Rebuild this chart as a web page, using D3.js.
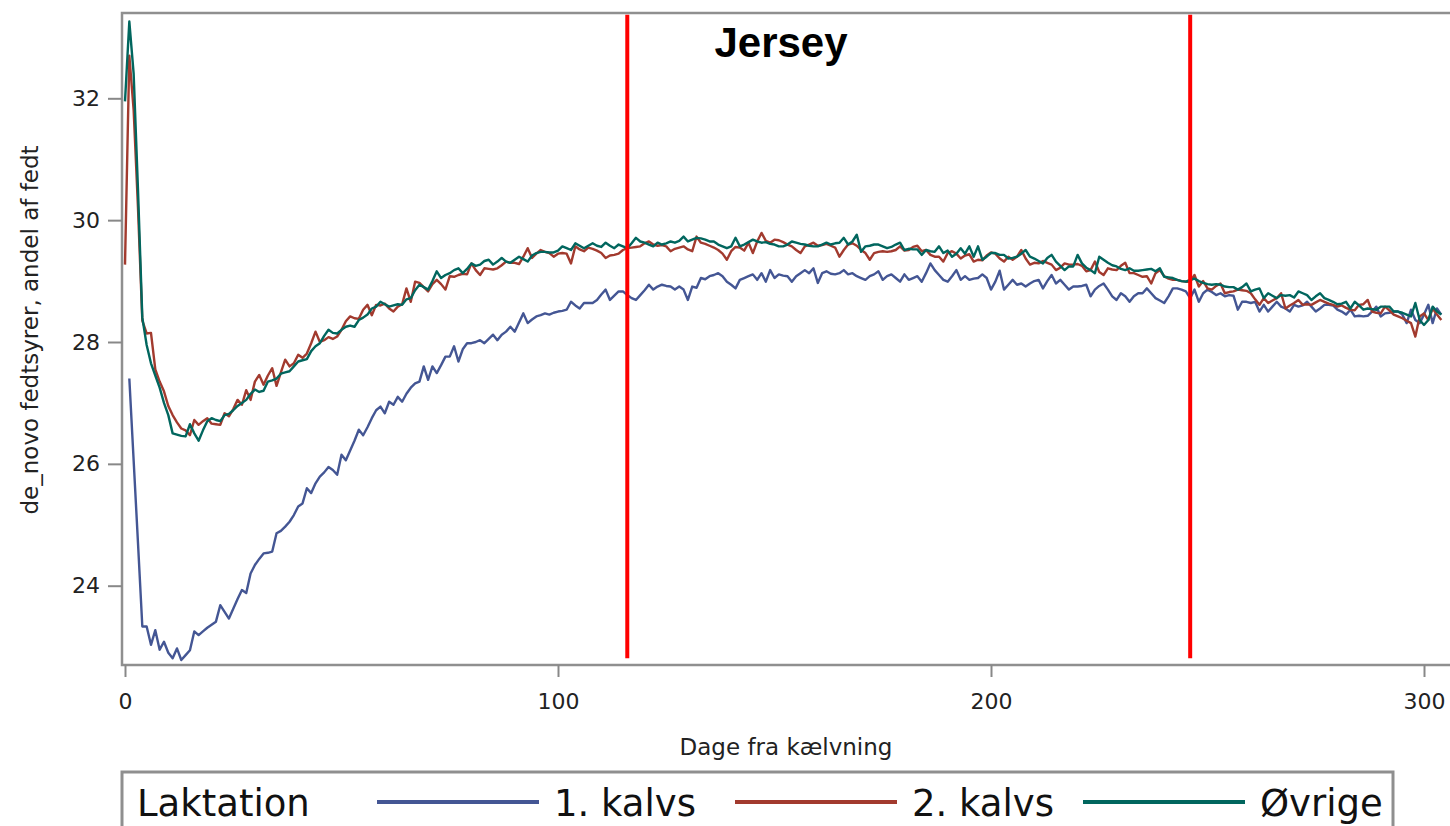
<!DOCTYPE html>
<html lang="en">
    <head>
        <meta charset="utf-8">
        <title>Jersey de_novo</title>
        <style type="text/css">
            body { margin: 0; background: white; }
            .tick text { font-family: "DejaVu Sans"; font-size: 22px; fill: #222; }
            .tick line { stroke: #888; stroke-width: 2; }
            .axis_label { font-family: "DejaVu Sans"; font-size: 23px; fill: #222; }
            .legend_text { font-family: "DejaVu Sans"; font-size: 37px; fill: #111; }
        </style>
        <script type="text/javascript" src="https://cdn.jsdelivr.net/npm/d3@7"></script>
    </head>
    <body>
        <script type="text/javascript">

var w = 1450;
var h = 826;

// series names + colours (SAS default palette)
var seriesNames = ['1. kalvs', '2. kalvs', 'Øvrige'];
var seriesColors = ['#445694', '#A23A2E', '#01665E'];
var seriesStart = [1, 0, 0];   // first day of each series

var xTicks = [0, 100, 200, 300];
var yTicks = [24, 26, 28, 30, 32];
var refDays = [116, 246];      // red marker lines
var refRange = [22.81, 33.37];

// 1. kalvs, day 1..304
var kalvs1 = [
  27.4, 26.05, 24.7, 23.33, 23.33, 23.03, 23.27, 22.95, 23.08, 22.9,
  22.81, 22.97, 22.78, 22.86, 22.94, 23.25, 23.19, 23.25, 23.31, 23.36,
  23.41, 23.68, 23.57, 23.46, 23.62, 23.78, 23.93, 23.88, 24.2, 24.34,
  24.44, 24.53, 24.54, 24.56, 24.86, 24.9, 24.97, 25.05, 25.16, 25.3,
  25.35, 25.6, 25.52, 25.68, 25.79, 25.86, 25.95, 25.9, 25.82, 26.15,
  26.06, 26.22, 26.38, 26.56, 26.47, 26.6, 26.75, 26.88, 26.94, 26.83,
  27.02, 26.97, 27.1, 27.02, 27.15, 27.25, 27.32, 27.35, 27.6, 27.38,
  27.6, 27.49, 27.62, 27.76, 27.76, 27.93, 27.68, 27.88, 27.98, 27.98,
  28.0, 28.03, 27.98, 28.05, 28.12, 28.03, 28.12, 28.17, 28.25, 28.17,
  28.32, 28.47, 28.31, 28.37, 28.42, 28.44, 28.47, 28.45, 28.48, 28.5,
  28.51, 28.53, 28.66, 28.6, 28.55, 28.64, 28.64, 28.64, 28.69, 28.78,
  28.86, 28.69, 28.76, 28.83, 28.83, 28.77, 28.72, 28.69, 28.77, 28.85,
  28.94, 28.86, 28.91, 28.94, 28.92, 28.91, 28.86, 28.91, 28.86, 28.69,
  28.91, 28.89, 29.05, 29.03, 29.08, 29.1, 29.13, 29.08, 28.99, 28.94,
  28.88, 29.02, 29.05, 29.08, 29.11, 29.02, 29.13, 28.99, 29.18, 29.05,
  29.11, 29.09, 29.08, 28.99, 29.08, 29.13, 29.18, 29.13, 29.21, 28.97,
  29.13, 29.16, 29.12, 29.11, 29.13, 29.18, 29.11, 29.13, 29.08, 29.05,
  29.02, 29.08, 29.11, 29.16, 29.02, 29.08, 29.11, 29.05, 28.99, 29.11,
  29.02, 29.05, 29.08, 28.99, 29.13, 29.29, 29.18, 29.1, 29.02, 28.99,
  29.08, 29.18, 29.02, 29.08, 29.02, 29.04, 29.05, 29.11, 29.05, 28.86,
  28.99, 29.17, 28.86, 28.94, 29.02, 28.94, 28.96, 28.91, 28.96, 29.0,
  29.02, 28.88, 29.0, 29.1, 28.96, 29.02, 28.94, 28.86, 28.91, 28.91,
  28.92, 28.94, 28.75, 28.86, 28.92, 28.96, 28.86, 28.75, 28.69, 28.8,
  28.75, 28.66, 28.75, 28.8, 28.8, 28.88, 28.8, 28.72, 28.68, 28.64,
  28.75, 28.88, 28.88, 28.86, 28.83, 28.72, 28.86, 28.66, 28.8, 28.86,
  28.82, 28.77, 28.8, 28.75, 28.77, 28.76, 28.53, 28.66, 28.66, 28.64,
  28.66, 28.5, 28.61, 28.5, 28.58, 28.66, 28.58, 28.55, 28.5, 28.61,
  28.58, 28.6, 28.66, 28.58, 28.5, 28.55, 28.61, 28.61, 28.6, 28.53,
  28.5, 28.45, 28.53, 28.42, 28.43, 28.42, 28.43, 28.5, 28.58, 28.42,
  28.47, 28.48, 28.5, 28.5, 28.45, 28.31, 28.53, 28.36, 28.31, 28.45,
  28.61, 28.31, 28.55, 28.45
];

// 2. kalvs, day 0..304
var kalvs2 = [
  29.27, 32.7, 31.8, 30.2, 28.35, 28.14, 28.15, 27.55, 27.35, 27.19,
  26.95, 26.8, 26.68, 26.58, 26.55, 26.47, 26.72, 26.64, 26.7, 26.75,
  26.66, 26.65, 26.64, 26.83, 26.78, 26.9, 27.05, 26.97, 27.21, 27.05,
  27.35, 27.46, 27.3, 27.45, 27.57, 27.28, 27.5, 27.71, 27.6, 27.65,
  27.79, 27.74, 27.81, 27.98, 28.17, 28.0, 28.03, 28.08, 28.05, 28.09,
  28.2, 28.34, 28.42, 28.39, 28.38, 28.53, 28.61, 28.44, 28.61, 28.6,
  28.63, 28.55, 28.5, 28.58, 28.62, 28.88, 28.66, 28.99, 28.97, 28.9,
  28.83, 28.95, 29.02, 28.95, 28.86, 29.08, 29.07, 29.1, 29.12, 29.11,
  29.29, 29.18, 29.1, 29.21, 29.2, 29.19, 29.21, 29.26, 29.32, 29.3,
  29.3, 29.28, 29.4, 29.54, 29.38, 29.45, 29.51, 29.48, 29.46, 29.4,
  29.45, 29.46, 29.45, 29.29, 29.57, 29.52, 29.49, 29.55, 29.53, 29.5,
  29.46, 29.38, 29.42, 29.43, 29.45, 29.51, 29.54, 29.55, 29.56, 29.57,
  29.62, 29.65, 29.6, 29.58, 29.59, 29.57, 29.49, 29.53, 29.55, 29.57,
  29.52, 29.49, 29.73, 29.63, 29.61, 29.58, 29.55, 29.51, 29.45, 29.35,
  29.49, 29.56, 29.55, 29.5, 29.63, 29.46, 29.65, 29.79, 29.66, 29.63,
  29.68, 29.67, 29.64, 29.6, 29.57, 29.51, 29.46, 29.57, 29.6, 29.63,
  29.58, 29.59, 29.61, 29.58, 29.55, 29.4, 29.51, 29.6, 29.62, 29.58,
  29.51, 29.46, 29.35, 29.46, 29.48, 29.49, 29.48, 29.49, 29.51, 29.57,
  29.5, 29.51, 29.56, 29.58, 29.49, 29.51, 29.43, 29.4, 29.4, 29.32,
  29.46, 29.49, 29.45, 29.37, 29.42, 29.44, 29.32, 29.35, 29.34, 29.42,
  29.47, 29.45, 29.37, 29.32, 29.4, 29.35, 29.4, 29.51, 29.37, 29.27,
  29.3, 29.29, 29.33, 29.3, 29.27, 29.18, 29.22, 29.29, 29.27, 29.27,
  29.28, 29.25, 29.16, 29.18, 29.32, 29.15, 29.1, 29.21, 29.19, 29.18,
  29.25, 29.3, 29.13, 29.13, 29.1, 29.07, 29.08, 28.96, 29.13, 29.18,
  29.08, 29.04, 29.02, 29.02, 29.0, 28.99, 28.99, 29.1, 28.91, 29.0,
  28.88, 28.86, 28.92, 28.96, 28.8, 28.82, 28.83, 28.86, 28.85, 28.84,
  28.8, 28.7, 28.61, 28.72, 28.64, 28.68, 28.72, 28.8, 28.55, 28.6,
  28.64, 28.69, 28.61, 28.62, 28.61, 28.65, 28.69, 28.66, 28.63, 28.61,
  28.58, 28.6, 28.56, 28.53, 28.52, 28.61, 28.62, 28.69, 28.5, 28.48,
  28.47, 28.58, 28.52, 28.45, 28.42, 28.39, 28.35, 28.31, 28.09, 28.42,
  28.47, 28.36, 28.55, 28.45, 28.36
];

// Øvrige, day 0..304
var ovrige = [
  31.95, 33.26, 32.4, 30.5, 28.4, 27.95, 27.65, 27.45, 27.25, 27.0,
  26.8, 26.5, 26.48, 26.46, 26.45, 26.65, 26.5, 26.38, 26.55, 26.7,
  26.75, 26.72, 26.7, 26.8, 26.82, 26.88, 26.95, 27.0, 27.05, 27.15,
  27.22, 27.18, 27.2, 27.35, 27.37, 27.4, 27.48, 27.5, 27.52, 27.6,
  27.68, 27.7, 27.72, 27.85, 27.93, 27.98, 28.1, 28.2, 28.15, 28.14,
  28.2, 28.25, 28.27, 28.25, 28.36, 28.4, 28.45, 28.55, 28.58, 28.66,
  28.62, 28.58, 28.6, 28.62, 28.61, 28.7, 28.72, 28.85, 28.94, 28.9,
  28.86, 29.0, 29.16, 29.05, 29.1, 29.13, 29.18, 29.21, 29.13, 29.2,
  29.29, 29.25, 29.27, 29.33, 29.35, 29.27, 29.32, 29.38, 29.32, 29.3,
  29.35, 29.4, 29.36, 29.32, 29.42, 29.46, 29.48, 29.48, 29.47, 29.47,
  29.5, 29.57, 29.54, 29.51, 29.62, 29.58, 29.54, 29.58, 29.62, 29.58,
  29.56, 29.63, 29.58, 29.54, 29.6, 29.57, 29.54, 29.62, 29.71, 29.65,
  29.63, 29.6, 29.57, 29.63, 29.6, 29.62, 29.65, 29.63, 29.66, 29.73,
  29.65, 29.68, 29.71, 29.7, 29.68, 29.65, 29.65, 29.6, 29.57, 29.54,
  29.57, 29.71, 29.57, 29.6, 29.64, 29.68, 29.65, 29.63, 29.64, 29.61,
  29.6, 29.57, 29.57, 29.6, 29.65, 29.63, 29.61, 29.6, 29.58, 29.57,
  29.57, 29.6, 29.63, 29.6, 29.62, 29.63, 29.71, 29.6, 29.65, 29.76,
  29.48, 29.57, 29.58, 29.6, 29.6, 29.57, 29.54, 29.56, 29.6, 29.63,
  29.51, 29.53, 29.52, 29.52, 29.43, 29.51, 29.49, 29.48, 29.57, 29.46,
  29.5, 29.4, 29.45, 29.54, 29.45, 29.57, 29.4, 29.57, 29.35, 29.4,
  29.46, 29.46, 29.43, 29.43, 29.37, 29.38, 29.4, 29.45, 29.51, 29.4,
  29.37, 29.33, 29.29, 29.38, 29.43, 29.32, 29.25, 29.18, 29.24, 29.24,
  29.43, 29.29, 29.22, 29.18, 29.13, 29.4, 29.35, 29.3, 29.26, 29.24,
  29.2, 29.18, 29.21, 29.17, 29.17, 29.18, 29.19, 29.2, 29.16, 29.21,
  29.07, 29.06, 29.05, 29.02, 29.0, 28.99, 29.02, 29.04, 29.0, 28.97,
  28.95, 28.94, 28.95, 28.94, 28.91, 28.9, 28.9, 28.86, 28.9, 28.96,
  28.83, 28.86, 28.88, 28.72, 28.8, 28.76, 28.72, 28.77, 28.76, 28.77,
  28.73, 28.83, 28.8, 28.77, 28.69, 28.75, 28.8, 28.72, 28.69, 28.66,
  28.62, 28.63, 28.66, 28.55, 28.66, 28.6, 28.53, 28.55, 28.54, 28.53,
  28.58, 28.58, 28.58, 28.5, 28.5, 28.48, 28.45, 28.42, 28.64, 28.36,
  28.28, 28.36, 28.58, 28.5, 28.45
];

var seriesValues = [kalvs1, kalvs2, ovrige];

var plotLeft = 122, plotTop = 13, plotBottom = 665;

var svg = d3.select("body")
    .append("svg")
    .attr("width", w)
    .attr("height", h);

var x = d3.scaleLinear().domain([0, 300]).range([125, 1424]);
var y = d3.scaleLinear().domain([24, 32]).range([585.7, 98.3]);

// frame (top + left, no right side visible)
svg.append('path')
  .attr('d', 'M' + (w + 10) + ',' + plotTop + 'H' + plotLeft + 'V' + plotBottom + 'H' + (w + 10))
  .attr('fill', 'none')
  .attr('stroke', '#8f8f8f')
  .attr('stroke-width', 2.5);

var xAxis = svg.append('g')
  .attr('transform', 'translate(0,' + plotBottom + ')')
  .call(d3.axisBottom(x).tickValues(xTicks).tickSize(12).tickPadding(16));
xAxis.select('.domain').remove();

var yAxis = svg.append('g')
  .attr('transform', 'translate(' + plotLeft + ',0)')
  .call(d3.axisLeft(y).tickValues(yTicks).tickSize(14).tickPadding(8));
yAxis.select('.domain').remove();

svg.append('text').attr('class', 'axis_label')
  .attr('x', 786).attr('y', 755)
  .attr('text-anchor', 'middle')
  .text('Dage fra kælvning');

svg.append('text').attr('class', 'axis_label')
  .attr('transform', 'translate(38,330) rotate(-90)')
  .attr('text-anchor', 'middle')
  .text('de_novo fedtsyrer, andel af fedt');

var line = d3.line()
  .x(function(d){ return x(d.day); })
  .y(function(d){ return y(d.v); });

seriesValues.forEach(function(vals, s){
  var pts = vals.map(function(v, i){ return {day: seriesStart[s] + i, v: v}; });
  svg.append('path')
    .datum(pts)
    .attr('d', line)
    .attr('fill', 'none')
    .attr('stroke', seriesColors[s])
    .attr('stroke-width', 2.4)
    .attr('stroke-linejoin', 'round');
});

// red period markers
svg.selectAll('line.ref')
  .data(refDays)
  .enter()
  .append('line')
  .attr('class', 'ref')
  .attr('x1', function(d){ return x(d); })
  .attr('x2', function(d){ return x(d); })
  .attr('y1', y(refRange[1]))
  .attr('y2', y(refRange[0]))
  .attr('stroke', '#ff0000')
  .attr('stroke-width', 4);

svg.append('text')
  .attr('x', 781).attr('y', 57)
  .attr('text-anchor', 'middle')
  .style('font-family', '"Liberation Sans", Arial')
  .style('font-weight', 'bold')
  .style('font-size', '42px')
  .text('Jersey');

// legend
var lg = svg.append('g');
lg.append('rect')
  .attr('x', 122).attr('y', 772)
  .attr('width', 1271).attr('height', 90)
  .attr('fill', 'white')
  .attr('stroke', '#8f8f8f')
  .attr('stroke-width', 3);
lg.append('text').attr('class', 'legend_text')
  .attr('x', 137).attr('y', 816)
  .text('Laktation');

var legX = [377, 735, 1083];
seriesNames.forEach(function(name, s){
  lg.append('line')
    .attr('x1', legX[s]).attr('x2', legX[s] + 162)
    .attr('y1', 802).attr('y2', 802)
    .attr('stroke', seriesColors[s])
    .attr('stroke-width', 4);
  lg.append('text').attr('class', 'legend_text')
    .attr('x', legX[s] + 177).attr('y', 816)
    .text(name);
});

        </script>
    </body>
</html>
